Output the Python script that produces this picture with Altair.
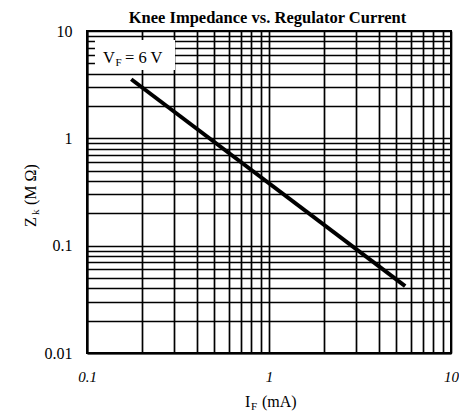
import altair as alt
import pandas as pd

# Data
i_f = [0.175, 5.6]          # mA
z_k = [3.55, 0.042]         # MOhm

x_grid = [0.1, 0.2, 0.3, 0.4, 0.5, 0.6, 0.7, 0.8, 0.9,
          1, 2, 3, 4, 5, 6, 7, 8, 9, 10]
y_grid = [0.01, 0.02, 0.03, 0.04, 0.05, 0.06, 0.07, 0.08, 0.09,
          0.1, 0.2, 0.3, 0.4, 0.5, 0.6, 0.7, 0.8, 0.9,
          1, 2, 3, 4, 5, 6, 7, 8, 9, 10]
x_labels = [0.1, 1, 10]
y_labels = [0.01, 0.1, 1, 10]

# annotation box (data coordinates)
box_x = [0.1106, 0.3045]
box_y = [8.24, 4.33]

title_text = "Knee Impedance vs. Regulator Current"
FONT = "Liberation Serif"
W, H = 364, 322

df = pd.DataFrame({"If": i_f, "Zk": z_k})

xs = alt.Scale(type="log", domain=[0.1, 10], nice=False)
ys = alt.Scale(type="log", domain=[0.01, 10], nice=False)

x_axis = alt.Axis(values=x_grid, grid=True, gridColor="black", gridWidth=1.7,
                  gridOpacity=1, ticks=False, domainColor="black", domainWidth=2,
                  labelExpr="indexof(%s, datum.value) >= 0 ? format(datum.value, '~g') : ''" % x_labels,
                  labelFont=FONT, labelFontSize=15, labelFontStyle="italic",
                  labelColor="black", labelPadding=16, labelFlush=False,
                  labelOverlap=False, title=None)
y_axis = alt.Axis(values=y_grid, grid=True, gridColor="black", gridWidth=1.7,
                  gridOpacity=1, ticks=False, domainColor="black", domainWidth=2,
                  labelExpr="indexof(%s, datum.value) >= 0 ? format(datum.value, '~g') : ''" % y_labels,
                  labelFont=FONT, labelFontSize=16, labelColor="black",
                  labelPadding=15, labelFlush=False, labelOverlap=False, title=None)

line = alt.Chart(df).mark_line(color="black", strokeWidth=4).encode(
    x=alt.X("If:Q", scale=xs, axis=x_axis),
    y=alt.Y("Zk:Q", scale=ys, axis=y_axis),
)

box = alt.Chart(pd.DataFrame({"x": [box_x[0]], "x2": [box_x[1]],
                              "y": [box_y[0]], "y2": [box_y[1]]})).mark_rect(
    color="white", opacity=1).encode(
    x=alt.X("x:Q", scale=xs), x2="x2:Q",
    y=alt.Y("y:Q", scale=ys), y2="y2:Q")


def txt(s, x, y, size, **kw):
    return alt.Chart(alt.Data(values=[{}])).mark_text(
        font=FONT, fontSize=size, color="black", align=kw.pop("align", "left"),
        baseline="alphabetic", **kw).encode(
        x=alt.value(x), y=alt.value(y), text=alt.value(s))


texts = [
    txt(title_text, 180.5, -8, 16.5, align="center", fontWeight="bold"),
    txt("V", 16, 32, 16.5),
    txt("F", 28.5, 35, 11),
    txt("= 6 V", 38, 32, 16.5),
    txt("I", 158, 376, 16),
    txt("F", 164, 379, 11),
    txt("(mA)", 175, 376, 16),
    txt("Z", -51, 196, 16, angle=270),
    txt("k", -48, 184, 11, angle=270),
    txt("(M \u03a9)", -51, 174, 16, angle=270),
]

chart = alt.layer(line, box, *texts).properties(
    width=W, height=H,
    autosize=alt.AutoSizeParams(type="none"),
    padding={"left": 79, "top": 23, "right": 8, "bottom": 58},
).configure_view(stroke="black", strokeWidth=2)

chart.save("out.html", embed_options={"renderer": "svg", "actions": False})
